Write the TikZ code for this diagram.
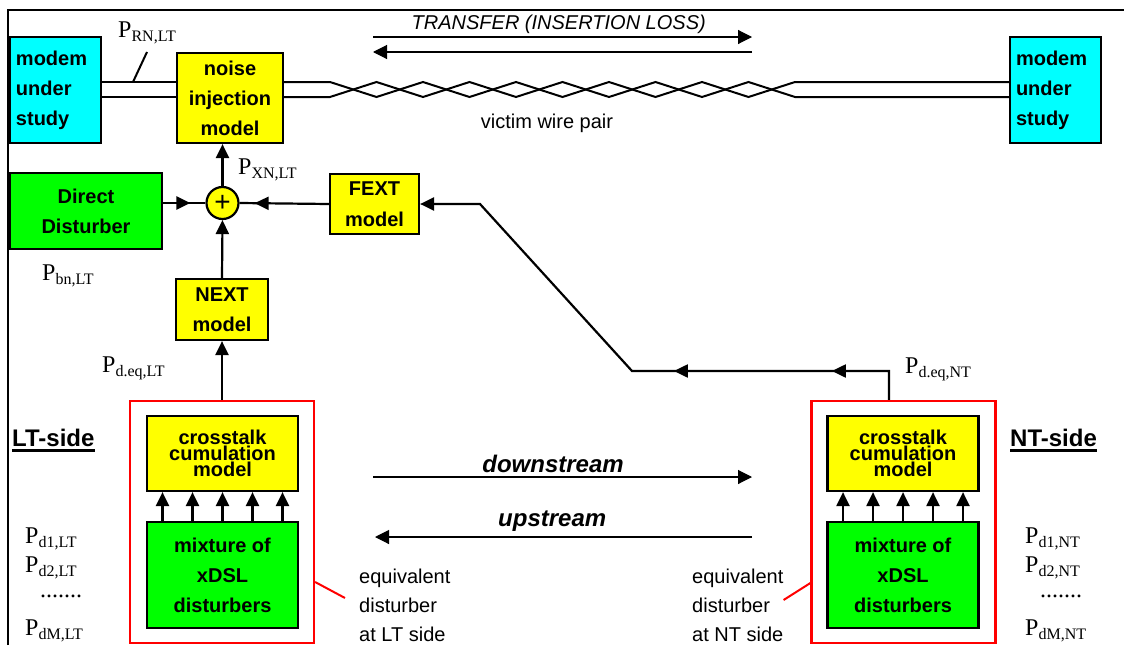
\documentclass[tikz,border=0pt]{standalone}
\usepackage{fontspec}
\setmainfont{Liberation Serif}
\setsansfont{Liberation Sans}
\usepackage{tikz}
\usetikzlibrary{arrows.meta, calc, decorations.markings}
\definecolor{aqua}{RGB}{0,255,255}
\definecolor{lemon}{RGB}{255,255,0}
\definecolor{lime}{RGB}{0,255,0}
\definecolor{signalred}{RGB}{255,0,0}
\newcommand{\boxfont}{\sffamily\bfseries\fontsize{20}{30}\selectfont}
\newcommand{\powsub}[1]{P\raisebox{-4pt}{\fontsize{16}{16}\selectfont #1}}
\tikzset{
    outl/.style={draw, line width=2.2pt},
    blk/.style={style=outl, inner sep=0pt, align=center, font=\boxfont},
    ylw/.style={style=blk, fill=lemon},
    grn/.style={style=blk, fill=lime},
    cyn/.style={style=blk, fill=aqua, align=left, text width=79pt, inner xsep=6pt, minimum height=106pt}, % modem boxes
    xtalk/.style={style=ylw, minimum width=151pt, minimum height=75pt, font=\sffamily\bfseries\fontsize{20}{14.5}\selectfont},
    mix/.style={style=grn, minimum width=151pt, minimum height=106pt},
    redbox/.style={draw=signalred, line width=2.2pt, minimum width=184pt, minimum height=242pt},
    sum/.style={circle, style=outl, fill=lemon, minimum size=32pt, inner sep=0pt, font=\sffamily\fontsize{28}{28}\selectfont},
    e/.style={line width=2.2pt, -{Triangle[length=14pt, width=13pt]}}, % signal path
    fine/.style={line width=1.1pt, -{Triangle[length=14pt, width=14pt]}}, % direction arrows
    midarr/.style={postaction={decorate}, decoration={markings, mark=at position -15pt with {\arrow{Triangle[length=14pt, width=13pt]}}}},
    feedarr/.style={postaction={decorate}, decoration={markings,
        mark=at position 86pt with {\arrow{Triangle[length=14pt, width=13pt]}},
        mark=at position 244pt with {\arrow{Triangle[length=14pt, width=13pt]}}}},
    wire/.style={line width=2pt},
    redl/.style={draw=signalred, line width=2pt},
    uline/.style={line width=3pt},
    plab/.style={font=\rmfamily\fontsize{24}{24}\selectfont, inner sep=0pt, anchor=base west}, % power labels
    note/.style={font=\sffamily\fontsize{20}{29}\selectfont, inner sep=0pt, align=left, anchor=west},
    side/.style={font=\sffamily\bfseries\fontsize{24}{24}\selectfont, inner sep=0pt, anchor=base west},
    flow/.style={font=\sffamily\bfseries\itshape\fontsize{24}{24}\selectfont, inner sep=0pt}
}

\begin{document}
\begin{tikzpicture}[x=1pt, y=-1pt]
        \useasboundingbox (0,0) rectangle (1124,645);
        \draw[line width=2.5pt] (8,645) -- (8,10) -- (1124,10);

        \node[cyn] (modem_left) at (55.5,90) {modem\\under\\study};
        \node[cyn] (modem_right) at (1055.5,90) {modem\\under\\study};
        \node[ylw, minimum width=106pt, minimum height=90pt] (noise) at (230,98) {noise\\injection\\model};
        \node[grn, minimum width=152pt, minimum height=76pt] (direct) at (86,211) {Direct\\Disturber};
        \node[ylw, minimum width=89pt, minimum height=60pt] (fext) at (374.5,204) {FEXT\\[1pt]model};
        \node[ylw, minimum width=92pt, minimum height=61pt] (next) at (222,309.5) {NEXT\\model};
        \node[sum] (sum) at (222.5,203) {+};

        \node[redbox] (red_left) at (222,522) {};
        \node[redbox] (red_right) at (903.5,522) {};
        \node[xtalk] (xtalk_left) at (222.5,453.5) {crosstalk\\cumulation\\model};
        \node[xtalk] (xtalk_right) at (903,453.5) {crosstalk\\cumulation\\model};
        \node[mix] (mix_left) at (222.5,575) {mixture of\\xDSL\\disturbers};
        \node[mix] (mix_right) at (903,575) {mixture of\\xDSL\\disturbers};
        \foreach \dx in {-60,-30,0,30,60} {
            \draw[e] ($(mix_left.north)+(\dx,0)$) -- ($(xtalk_left.south)+(\dx,0)$);
            \draw[e] ($(mix_right.north)+(\dx,0)$) -- ($(xtalk_right.south)+(\dx,0)$);
        }

        % victim pair
        \draw[wire] (modem_left.east |- 0,82) -- (noise.west |- 0,82);
        \draw[wire] (modem_left.east |- 0,97) -- (noise.west |- 0,97);
        \draw[wire] (noise.east |- 0,82) -- (330,82)
            \foreach \k in {1,...,10} { -- ({330+46.5*\k},{82+15*mod(\k,2)}) } -- (modem_right.west |- 0,82);
        \draw[wire] (noise.east |- 0,97) -- (330,97)
            \foreach \k in {1,...,10} { -- ({330+46.5*\k},{97-15*mod(\k,2)}) } -- (modem_right.west |- 0,97);
        \coordinate (rn_tick) at (147,52);
        \draw[wire] (133,82) -- (rn_tick);
        \node at (547,123) [font=\sffamily\fontsize{20}{20}\selectfont] (victim) {victim wire pair};

        \coordinate (tr_a) at (373,37);
        \coordinate (tr_b) at (752,37);
        \draw[fine] (tr_a) -- (tr_b) node[pos=0.49, above=3pt, inner sep=0pt, font=\sffamily\itshape\fontsize{20}{20}\selectfont] (transfer) {TRANSFER (INSERTION LOSS)};
        \draw[fine] (tr_b |- 0,52) -- (tr_a |- 0,52);

        % noise paths
        \draw[e] (red_left.north) -- (next.south);
        \draw[e] (next.north) -- (sum.south);
        \draw[e] (sum.north) -- (sum.north |- noise.south);
        \draw[e, -, midarr] (direct.east |- sum) -- (sum.west);
        \draw[e, -, midarr] (fext.west) -- (sum.east);
        \coordinate (fbk) at (889,371);
        \coordinate (fb_bend) at (632,371);
        \coordinate (fb_diag) at (480,204);
        \draw[e, feedarr] (red_right.north -| fbk) -- (fbk) -- (fb_bend) -- (fb_diag) -- (fext.east);

        \node[plab] (p_rn) at (118,37) {\powsub{RN,LT}};
        \node[plab] (p_xn) at (238,174) {\powsub{XN,LT}};
        \node[plab] (p_bn) at (42,280) {\powsub{bn,LT}};
        \node[plab] (p_deq_lt) at (102,372) {\powsub{d.eq,LT}};
        \node[plab] (p_deq_nt) at (905,373) {\powsub{d.eq,NT}};
        \foreach \side/\x in {LT/25, NT/1025} {
            \node[plab] (p_d1_\side) at (\x,543) {\powsub{d1,\side}};
            \node[plab] (p_d2_\side) at (\x,572) {\powsub{d2,\side}};
            \node[plab] (p_dots_\side) at (\x+15,597) {.......};
            \node[plab] (p_dm_\side) at (\x,635) {\powsub{dM,\side}};
        }

        \node[side] (lt_side) at (12,446) {LT-side};
        \draw[uline] ([yshift=-4pt]lt_side.base west) -- ([yshift=-4pt]lt_side.base east);
        \node[side] (nt_side) at (1010,446) {NT-side};
        \draw[uline] ([yshift=-4pt]nt_side.base west) -- ([yshift=-4pt]nt_side.base east);

        \coordinate (ds_a) at (373,477);
        \coordinate (ds_b) at (752,477);
        \draw[fine] (ds_a) -- (ds_b) node[flow, pos=0.475, above=4pt] (ds_text) {downstream};
        \coordinate (us_a) at (375,537);
        \coordinate (us_b) at (752,537);
        \draw[fine] (us_b) -- (us_a) node[flow, pos=0.53, above=5pt] (us_text) {upstream};

        \node[note] (eq_left) at (359,605) {equivalent\\disturber\\at LT side};
        \node[note] (eq_right) at (692,605) {equivalent\\disturber\\at NT side};
        \draw[redl] ($(red_left.east)+(0,60)$) -- ($(eq_left.west)+(-14,-7)$);
        \draw[redl] ($(eq_right.east)+(0,-5)$) -- ($(red_right.west)+(0,61)$);
\end{tikzpicture}
\end{document}
